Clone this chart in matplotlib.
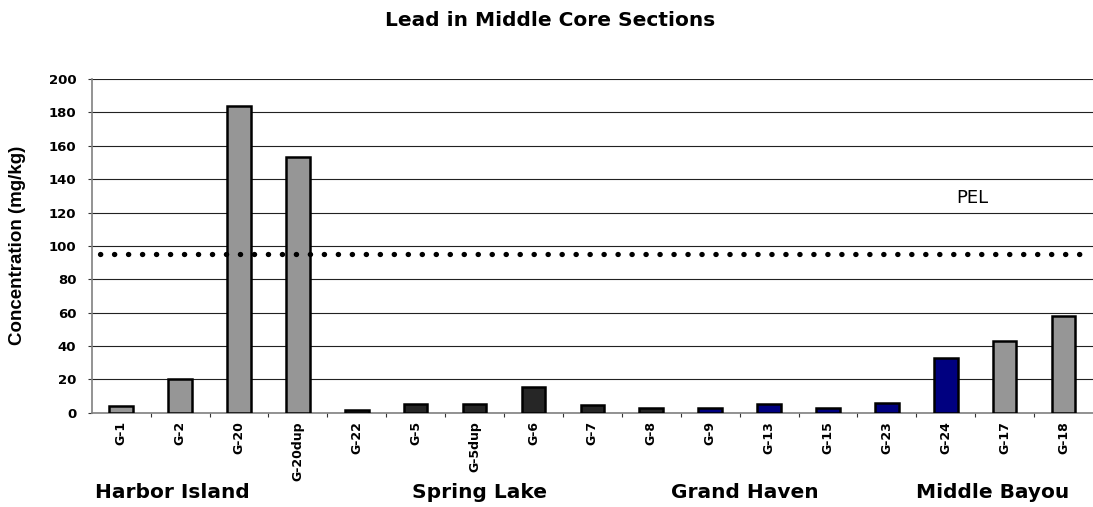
import matplotlib
matplotlib.use("Agg")
from matplotlib import pyplot as plt
import numpy as np

# samples (left to right) and lead concentration, mg/kg
samples = ["G-1", "G-2", "G-20", "G-20dup", "G-22", "G-5", "G-5dup", "G-6", "G-7",
           "G-8", "G-9", "G-13", "G-15", "G-23", "G-24", "G-17", "G-18"]
lead = [4, 20, 184, 153, 1.5, 5.5, 5, 15.5, 4.5, 3, 3, 5, 3, 6, 33, 43, 58]
bar_group = ["grey"] * 4 + ["dark"] * 6 + ["navy"] * 5 + ["grey"] * 2

sites = ["Harbor Island", "Spring Lake", "Grand Haven", "Middle Bayou"]
site_label_x = [0.87, 6.08, 10.58, 14.79]

pel = 95

group_colors = {"grey": "#969696", "dark": "#262626", "navy": "#000080"}

fig = plt.figure(figsize=(10.93, 5.07), dpi=100)
ax = fig.add_axes([0.0839, 0.186, 0.9161, 0.658])

x = np.arange(len(samples))
colors = [group_colors[g] for g in bar_group]
ax.bar(x, lead, width=0.4, color=colors, edgecolor="black", linewidth=1.8, zorder=3)

# PEL reference line
ax.plot([-0.36, 16.5], [pel, pel], color="black", linewidth=3.8,
        linestyle=(0, (0.05, 2.6)), dash_capstyle="round", zorder=4)
ax.text(14.45, 129, "PEL", ha="center", va="center", fontsize=13,
        family="DejaVu Sans", color="black")

ax.set_xlim(-0.5, len(samples) - 0.5)
ax.set_ylim(0, 200)
ax.set_yticks(np.arange(0, 201, 20))
ax.yaxis.grid(True, color="#222222", linewidth=0.8, zorder=0)
ax.set_axisbelow(True)

for side in ["top", "right"]:
    ax.spines[side].set_visible(False)
for side in ["left", "bottom"]:
    ax.spines[side].set_color("#808080")
    ax.spines[side].set_linewidth(1.2)

ax.set_xticks(x)
ax.set_xticklabels(samples, rotation=90, fontsize=9, fontweight="bold",
                   family="DejaVu Sans", va="top")
ax.set_xticks(x[:-1] + 0.5, minor=True)
ax.tick_params(axis="x", which="major", length=0, pad=6)
ax.tick_params(axis="x", which="minor", length=3, width=0.8, color="#333333")
ax.tick_params(axis="y", length=3, width=0.8, color="#333333", pad=8)
for lbl in ax.get_yticklabels():
    lbl.set_fontsize(9.5)
    lbl.set_fontweight("bold")
    lbl.set_family("DejaVu Sans")

fig.text(18 / 1093, 1 - 245 / 507, "Concentration (mg/kg)", rotation=90,
         ha="center", va="center", fontsize=13.5, fontweight="bold",
         family="Liberation Sans")

fig.text(550 / 1093, 1 - 20 / 507, "Lead in Middle Core Sections", ha="center",
         va="center", fontsize=14.5, fontweight="bold", family="DejaVu Sans")

trans = matplotlib.transforms.blended_transform_factory(ax.transData, fig.transFigure)
for name, sx in zip(sites, site_label_x):
    ax.text(sx, 1 - 492 / 507, name, transform=trans, ha="center", va="center",
            fontsize=14.5, fontweight="bold", family="DejaVu Sans")

fig.savefig("out.png", dpi=100)
